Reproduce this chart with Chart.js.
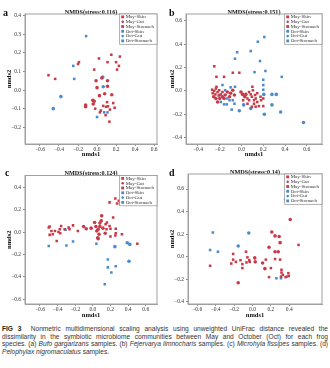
<!DOCTYPE html>
<html>
<head>
<meta charset="utf-8">
<script src="https://cdn.jsdelivr.net/npm/chart.js"></script>
<style>
body{margin:0;background:#fff;width:330px;height:368px;position:relative;overflow:hidden;}
canvas{position:absolute;}
.tag{position:absolute;font:bold 10px "Liberation Serif",serif;color:#111;line-height:10px;}
#caption{position:absolute;left:2px;top:325px;width:326px;font:6.6px/7.7px "Liberation Sans",sans-serif;color:#333;}
#caption div{text-align:justify;text-align-last:justify;}
#caption div.last{text-align-last:left;}
#caption b{color:#222;}
</style>
</head>
<body>
<canvas id="ca" width="165" height="160" style="left:0;top:0"></canvas>
<canvas id="cb" width="165" height="160" style="left:165px;top:0"></canvas>
<canvas id="cc" width="165" height="160" style="left:0;top:160px"></canvas>
<canvas id="cd" width="165" height="160" style="left:165px;top:160px"></canvas>
<span class="tag" style="left:3px;top:8px">a</span>
<span class="tag" style="left:169px;top:8px">b</span>
<span class="tag" style="left:5px;top:168px">c</span>
<span class="tag" style="left:169px;top:168px">d</span>
<div id="caption">
<div><b>FIG 3</b>&nbsp; Nonmetric multidimensional scaling analysis using unweighted UniFrac distance revealed the</div>
<div>dissimilarity in the symbiotic microbiome communities between May and October (Oct) for each frog</div>
<div>species. (a) <i>Bufo gargarizans</i> samples. (b) <i>Fejervarya limnocharis</i> samples. (c) <i>Microhyla fissipes</i> samples. (d)</div>
<div class="last"><i>Pelophylax nigromaculatus</i> samples.</div>
</div>
<script>
const groupNames = ["May-Skin", "May-Gut", "May-Stomach", "Oct-Skin", "Oct-Gut", "Oct-Stomach"];
const groupColors = ["#c93a48", "#c93a48", "#c93a48", "#4a8ccb", "#4a8ccb", "#4a8ccb"];
const groupShapes = ["rect", "circle", "rect", "rect", "circle", "rect"];
const stress = ["0.116", "0.151", "0.124", "0.14"];

// (a) Bufo gargarizans
const aMaySkin = [[-0.19,0.15],[-0.20,0.14],[-0.51,0.08],[-0.44,0.06],[0.02,0.17],[0.15,0.19],[0.24,0.18],[0.20,0.15],[0.11,0.15],[0.23,0.13],[0.21,0.11],[-0.03,0.11]];
const aMayGut = [[-0.01,0.05],[0.05,0.065],[0.11,0.05],[0.0,0.013],[0.11,0.02],[0.08,-0.02],[0.025,-0.03],[0.155,-0.025],[-0.045,-0.055],[-0.03,-0.06],[-0.12,-0.08],[-0.12,-0.09],[-0.04,-0.075]];
const aMayStomach = [[-0.02,-0.10],[0.065,-0.085],[0.105,-0.065],[0.095,-0.09],[0.17,-0.07],[0.185,-0.095],[0.135,-0.105],[0.04,-0.11],[0.03,-0.12],[0.09,-0.135],[0.13,-0.17],[0.115,-0.087]];
const aOctSkin = [[-0.115,0.29],[-0.25,0.13],[-0.24,0.06]];
const aOctGut = [[-0.38,-0.035],[-0.46,-0.10],[0.065,0.018],[0.06,0.07]];
const aOctStomach = [[0.075,-0.12],[0.11,-0.12],[0.0,-0.145]];

// (b) Fejervarya limnocharis
const bMaySkin = [[-0.25,0.21],[-0.23,0.12],[-0.16,0.12],[-0.08,0.155],[-0.02,0.155],[-0.27,0.01],[-0.25,0.0],[-0.235,0.02],[-0.22,-0.01],[-0.265,-0.02],[-0.24,-0.03],[-0.21,-0.04],[-0.19,-0.03],[-0.23,0.035],[-0.205,0.005],[-0.175,-0.01]];
const bMayGut = [[-0.175,-0.05],[-0.16,-0.065],[-0.2,-0.065],[-0.235,-0.065],[-0.255,-0.05],[-0.15,-0.035],[-0.13,-0.01],[-0.11,-0.05],[-0.1,-0.02],[-0.08,0.005],[-0.065,-0.035],[-0.22,-0.095],[-0.005,-0.01],[0.01,-0.03],[0.03,-0.05],[0.04,-0.03]];
const bMayStomach = [[0.055,-0.065],[0.07,-0.01],[0.085,-0.03],[0.095,-0.05],[0.105,0.005],[0.115,-0.08],[0.125,-0.035],[0.13,-0.065],[0.145,-0.095],[0.16,-0.13],[0.175,-0.05],[0.18,-0.08],[0.2,-0.065],[0.2,-0.13],[0.1,0.035],[0.07,-0.08],[0.055,-0.11],[0.015,-0.08],[0.095,-0.135],[0.13,-0.135],[0.115,-0.11],[0.145,-0.02]];
const bOctSkin = [[0.21,0.46],[0.15,0.42],[0.085,0.34],[-0.04,0.33],[-0.06,0.275],[0.17,0.255],[0.22,0.17],[0.12,0.16],[0.37,0.12],[0.2,0.095],[0.2,0.05],[0.2,0.01]];
const bOctGut = [[0.205,-0.03],[0.28,-0.03],[0.32,-0.03],[0.28,-0.12],[0.36,-0.18],[0.57,-0.27],[0.21,-0.2],[0.085,-0.15],[-0.02,-0.17],[0.02,-0.12]];
const bOctStomach = [[-0.09,-0.16],[-0.065,-0.11],[-0.11,-0.08],[-0.135,-0.115],[-0.16,-0.115],[-0.19,-0.095],[-0.2,-0.035],[-0.15,0.005],[-0.1,0.03],[-0.06,0.035],[-0.175,0.05],[-0.13,-0.065],[-0.08,-0.08]];

// (c) Microhyla fissipes
const cMaySkin = [[-0.5,0.04],[-0.49,0.05],[-0.47,0.01],[-0.455,-0.02],[-0.49,-0.025],[-0.43,0.01],[-0.39,0.0],[-0.375,0.025],[-0.36,0.055],[-0.37,-0.01],[-0.41,-0.08],[-0.32,0.025],[-0.265,0.025],[-0.275,0.04],[-0.225,0.06],[-0.17,0.01]];
const cMayGut = [[-0.105,0.05],[-0.075,0.03],[-0.02,0.035],[0.02,0.085],[0.035,0.05],[0.045,0.01],[0.06,0.025],[0.08,0.05],[0.08,0.08],[0.095,0.1],[0.055,-0.05],[0.06,-0.06],[0.1,0.145],[0.115,0.035],[0.07,-0.02],[0.14,-0.01]];
const cMayStomach = [[0.145,0.07],[0.16,0.085],[0.19,0.055],[0.155,0.025],[0.2,0.03],[0.23,0.13],[0.26,0.03],[0.26,-0.01],[0.255,-0.03],[0.2,-0.04],[0.33,-0.02],[0.19,0.265],[0.255,0.3],[0.295,0.28],[0.275,0.255],[0.31,0.255],[0.505,-0.105]];
const cOctSkin = [[-0.5,-0.125],[-0.31,0.02],[-0.3,-0.12],[-0.225,-0.085],[0.04,-0.105]];
const cOctGut = [[0.25,-0.13],[0.39,-0.095],[0.42,-0.11],[0.41,-0.26],[0.32,0.26]];
const cOctStomach = [[0.17,-0.245],[0.17,-0.315],[0.21,-0.36],[0.26,-0.305],[0.135,-0.465]];

// (d) Pelophylax nigromaculatus
const dMaySkin = [[-0.46,-0.08],[-0.21,0.025],[-0.21,-0.025],[-0.23,-0.06],[-0.18,-0.045],[-0.13,-0.03],[-0.11,-0.065],[-0.11,-0.1],[-0.07,0.045],[-0.055,-0.005],[-0.065,-0.05],[-0.035,-0.03],[-0.03,-0.045]];
const dMayGut = [[0.025,-0.01],[0.03,-0.045],[0.11,-0.055],[0.135,-0.105],[-0.155,-0.23],[0.18,0.085],[0.21,0.22],[0.245,0.185],[0.29,0.18],[0.3,0.125],[0.28,0.045],[0.245,0.045],[0.41,0.33]];
const dMayStomach = [[0.3,-0.025],[0.245,-0.02],[0.2,-0.1],[0.18,-0.18],[0.145,-0.025],[0.315,-0.115],[0.315,-0.14],[0.33,-0.16],[0.31,-0.175],[0.36,-0.18],[0.39,-0.145],[0.395,-0.17],[0.5,0.105]];
const dOctSkin = [[-0.43,0.215],[-0.46,0.06],[-0.375,0.045]];
const dOctGut = [[-0.155,0.095],[-0.04,0.21],[0.36,0.51]];
const dOctStomach = [[0.26,-0.19],[0.31,-0.19],[0.375,-0.175]];

const serif = '"Liberation Serif", "Times New Roman", serif';

// grey box round the plotting area
const framePlugin = {
  id: "frame",
  beforeDatasetsDraw(chart) {
    const {ctx, chartArea: a} = chart;
    ctx.save();
    ctx.strokeStyle = "#a0a0a0";
    ctx.lineWidth = 1;
    ctx.strokeRect(a.left, a.top, a.right - a.left, a.bottom - a.top);
    ctx.restore();
  }
};

// legend box tucked into the top-right corner of the plot
const boxLegend = {
  id: "boxLegend",
  afterDatasetsDraw(chart) {
    const {ctx, chartArea: a} = chart;
    const sets = chart.data.datasets;
    ctx.save();
    ctx.font = "5px " + serif;
    let w = 0;
    sets.forEach(d => { w = Math.max(w, ctx.measureText(d.label).width); });
    const bw = w + 9, rowH = 4.8, bh = sets.length * rowH + 1.5;
    const x0 = a.right - bw, y0 = a.top;
    ctx.fillStyle = "#fff";
    ctx.fillRect(x0, y0, bw, bh);
    ctx.strokeStyle = "#909090";
    ctx.lineWidth = 0.7;
    ctx.strokeRect(x0, y0, bw, bh);
    ctx.textBaseline = "middle";
    sets.forEach((d, i) => {
      const cy = y0 + 2.9 + i * rowH;
      ctx.fillStyle = d.backgroundColor;
      if (d.pointStyle === "circle") {
        ctx.beginPath();
        ctx.arc(x0 + 3, cy, 1.3, 0, Math.PI * 2);
        ctx.fill();
      } else {
        ctx.fillRect(x0 + 1.6, cy - 1.4, 2.8, 2.8);
      }
      ctx.fillStyle = "#333";
      ctx.fillText(d.label, x0 + 6, cy);
    });
    ctx.restore();
  }
};

const fmt = v => (v < 0 ? "\u2212" : "") + Math.abs(v).toFixed(1);

function drawPanel(id, stressVal, groups, xr, yr, xStep, yStep, box) {
  new Chart(id, {
    type: "scatter",
    data: {
      datasets: groups.map((pts, i) => ({
        label: groupNames[i],
        data: pts.map(p => ({x: p[0], y: p[1]})),
        backgroundColor: groupColors[i],
        pointStyle: groupShapes[i],
        pointRadius: 1.8,
        pointBorderWidth: 0
      }))
    },
    options: {
      responsive: false,
      animation: false,
      layout: {padding: {left: 0, right: box.right, top: 0, bottom: 0}},
      plugins: {
        legend: {display: false},
        tooltip: {enabled: false},
        title: {
          display: true,
          text: "NMDS(stress:" + stressVal + ")",
          fullSize: false,
          color: "#111",
          font: {family: serif, size: 6.2, weight: "bold", lineHeight: 1},
          padding: {top: box.titleTop, bottom: box.titleBottom}
        }
      },
      scales: {
        x: {
          type: "linear",
          min: xr[0], max: xr[1],
          afterFit: s => { s.height = box.xh; },
          // tick labels stop at the last labelled break
          afterBuildTicks: s => { s.ticks = s.ticks.filter(t => t.value <= box.xLast + 1e-9); },
          ticks: {stepSize: xStep, includeBounds: false, padding: 0, maxRotation: 0, autoSkip: false,
            color: "#333", font: {family: serif, size: 5.5}, callback: fmt},
          grid: {drawOnChartArea: false, tickLength: 2, color: "#888"},
          border: {color: "#a0a0a0"},
          title: {display: true, text: "nmds1", color: "#111",
            font: {family: serif, size: 6.5, weight: "bold"}, padding: {top: 0, bottom: box.xtPad}}
        },
        y: {
          type: "linear",
          min: yr[0], max: yr[1],
          afterFit: s => { s.width = box.yw; },
          ticks: {stepSize: yStep, includeBounds: false, padding: 2, autoSkip: false,
            color: "#333", font: {family: serif, size: 5.5}, callback: fmt},
          grid: {drawOnChartArea: false, tickLength: 2, color: "#888"},
          border: {color: "#a0a0a0"},
          title: {display: true, text: "nmds2", color: "#111",
            font: {family: serif, size: 6.5, weight: "bold"}, padding: {top: box.ytPad, bottom: 0}}
        }
      }
    },
    plugins: [framePlugin, boxLegend]
  });
}

drawPanel("ca", stress[0], [aMaySkin, aMayGut, aMayStomach, aOctSkin, aOctGut, aOctStomach],
  [-0.757, 0.63], [-0.29, 0.409], 0.2, 0.1,
  {yw: 25, right: 8, xh: 16, titleTop: 8.8, titleBottom: -1, ytPad: 5.3, xtPad: 1.8, xLast: 0.6});
drawPanel("cb", stress[1], [bMaySkin, bMayGut, bMayStomach, bOctSkin, bOctGut, bOctStomach],
  [-0.51, 0.74], [-0.454, 0.657], 0.2, 0.2,
  {yw: 21, right: 8, xh: 16, titleTop: 8.8, titleBottom: -1, ytPad: 3.6, xtPad: 1.8, xLast: 0.6});
drawPanel("cc", stress[2], [cMaySkin, cMayGut, cMayStomach, cOctSkin, cOctGut, cOctStomach],
  [-0.77, 0.728], [-0.642, 0.505], 0.2, 0.2,
  {yw: 25, right: 8, xh: 16, titleTop: 10.2, titleBottom: -0.9, ytPad: 5.6, xtPad: 1.1, xLast: 0.6});
drawPanel("cd", stress[3], [dMaySkin, dMayGut, dMayStomach, dOctSkin, dOctGut, dOctStomach],
  [-0.70, 0.755], [-0.418, 0.733], 0.2, 0.2,
  {yw: 23, right: 8, xh: 16, titleTop: 9.6, titleBottom: -1.8, ytPad: 3.6, xtPad: 1.1, xLast: 0.4});
</script>
</body>
</html>
